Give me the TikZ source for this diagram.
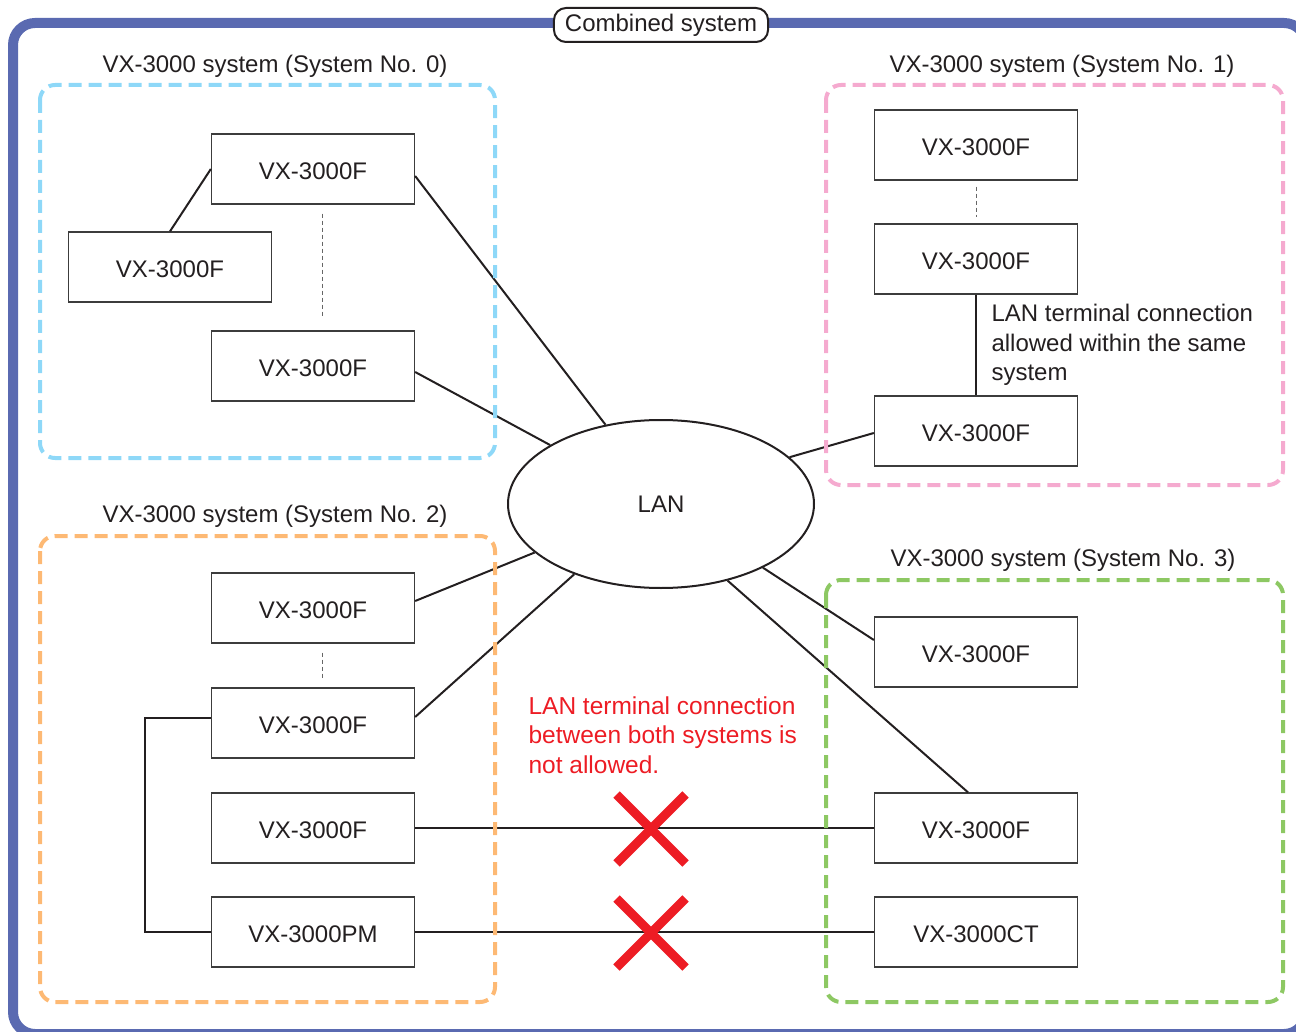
\documentclass[tikz,border=0pt]{standalone}
\usepackage{fontspec}
\setmainfont{Liberation Sans}
\usetikzlibrary{shapes.geometric,shapes.misc}

\definecolor{framecol}{RGB}{90,106,177}
\definecolor{skycol}{RGB}{142,216,248}
\definecolor{pinkcol}{RGB}{245,170,207}
\definecolor{orangecol}{RGB}{253,185,116}
\definecolor{greencol}{RGB}{141,200,99}
\definecolor{nored}{RGB}{237,28,36}
\definecolor{inkcol}{RGB}{35,31,32}
\definecolor{boxcol}{RGB}{60,60,60}

\tikzset{
  unit/.style = {draw=boxcol, line width=1.3pt, minimum width=203pt, minimum height=70pt, inner sep=0pt, text height=21pt, text depth=0pt, text=inkcol},
  grouprect/.style = {line width=4pt, dash pattern=on 13pt off 7pt, rounded corners=15pt},
  grouptitle/.style = {text=inkcol},
  link/.style = {draw=inkcol, line width=2pt},
  dotlink/.style = {draw=gray!80!black, line width=1pt, dash pattern=on 4pt off 3pt},
  lanbubble/.style = {ellipse, draw=inkcol, line width=2pt, minimum width=306pt, minimum height=168pt, inner sep=0pt, text=inkcol},
  notallowed/.style = {cross out, draw=nored, line width=9pt, minimum size=60pt, inner sep=0pt},
  note/.style = {align=left, anchor=west}
}

\begin{document}
\begin{tikzpicture}[x=1pt, y=-1pt, font=\fontsize{24}{29.5}\selectfont]
    \useasboundingbox (0,0) rectangle (1296,1032);
    \draw[framecol, line width=10pt, rounded corners=22pt] (13,23) rectangle (1306,1034);
    \node[draw=inkcol, line width=2pt, fill=white, rounded corners=12pt, minimum height=34pt, inner xsep=11pt, text=inkcol] (combined) at (661,25) {Combined system};

    \node[grouptitle] (titlezero) at (275,66) {VX-3000 system (System No. 0)};
    \node[grouptitle] (titleone) at (1062,66) {VX-3000 system (System No. 1)};
    \node[grouptitle] (titletwo) at (275,516) {VX-3000 system (System No. 2)};
    \node[grouptitle] (titlethree) at (1063,560) {VX-3000 system (System No. 3)};

    \node[unit] (zeroA) at (313,169) {VX-3000F};
    \node[unit] (zeroB) at (170,267) {VX-3000F};
    \node[unit] (zeroC) at (313,366) {VX-3000F};

    \node[unit] (oneA) at (976,145) {VX-3000F};
    \node[unit] (oneB) at (976,259) {VX-3000F};
    \node[unit] (oneC) at (976,431) {VX-3000F};
    \node[note, text=inkcol] (allowed) at (988,345) {LAN terminal connection\\allowed within the same\\system};

    \node[unit] (twoA) at (313,608) {VX-3000F};
    \node[unit] (twoB) at (313,723) {VX-3000F};
    \node[unit] (twoC) at (313,828) {VX-3000F};
    \node[unit] (twoD) at (313,932) {VX-3000PM};

    \node[unit] (threeA) at (976,652) {VX-3000F};
    \node[unit] (threeC) at (976,828) {VX-3000F};
    \node[unit] (threeD) at (976,932) {VX-3000CT};

    \node[lanbubble] (lan) at (661,504) {LAN};
    \node[note, text=nored, font=\fontsize{24.5}{29.5}\selectfont] (forbidden) at (525,735) {LAN terminal connection\\between both systems is\\not allowed.};

    \draw[link] (zeroB.north) -- (zeroA.west);
    \draw[dotlink] ([xshift=9pt,yshift=-9pt]zeroA.south) -- ([xshift=9pt,yshift=13pt]zeroC.north);
    \draw[link] ([yshift=-7pt]zeroA.east) -- (lan.125);
    \draw[link] ([yshift=-6pt]zeroC.east) -- (lan.152);

    \draw[dotlink] ([yshift=-6pt]oneA.south) -- ([yshift=6pt]oneB.north);
    \draw[link, line width=2.5pt] (oneB.south) -- (oneC.north);
    \draw[link] ([yshift=-2pt]oneC.west) -- (lan.20);

    \draw[dotlink] ([xshift=9pt,yshift=-9pt]twoA.south) -- ([xshift=9pt,yshift=9pt]twoB.north);
    \draw[link] ([yshift=7pt]twoA.east) -- (lan.201);
    \draw[link] ([yshift=6pt]twoB.east) -- (lan.219);
    \draw[link, line width=2.5pt] ([yshift=5pt]twoB.west) -- ++(-66,0) |- (twoD.west);

    \draw[link] ([yshift=12pt]threeA.west) -- (lan.328);
    \draw[link] ([xshift=-8pt]threeC.north) -- (lan.311);

    \draw[link] (twoC.east) -- (threeC.west);
    \draw[link] (twoD.east) -- (threeD.west);
    \node[notallowed] (crossC) at (651,829) {};
    \node[notallowed] (crossD) at (651,933) {};

    \draw[grouprect, skycol] (40,85) rectangle (495,458);
    \draw[grouprect, pinkcol] (826,85) rectangle (1283,485);
    \draw[grouprect, orangecol] (40,536) rectangle (495,1002);
    \draw[grouprect, greencol] (826,580) rectangle (1283,1002);
\end{tikzpicture}
\end{document}
